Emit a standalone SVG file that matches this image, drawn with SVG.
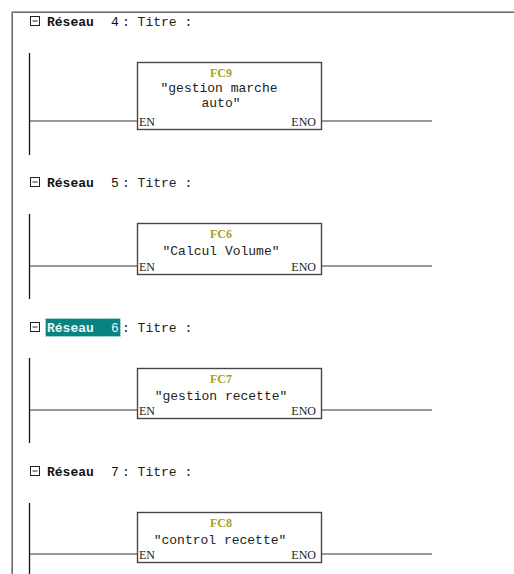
<svg xmlns="http://www.w3.org/2000/svg" width="514" height="574" viewBox="0 0 514 574">
  <defs>
    <style>
      .frame-outer { stroke: #a8a8a8; stroke-width: 1; fill: none; }
      .frame-inner { stroke: #6a6a6a; stroke-width: 1; fill: none; }
      .rail { stroke: #111; stroke-width: 1.3; fill: none; }
      .wire { stroke: #333; stroke-width: 1.2; fill: none; }
      .block { fill: #fff; stroke: #474747; stroke-width: 1.4; }
      .toggle { fill: #fff; stroke: #222; stroke-width: 1; }
      .net { font-family: "Liberation Mono", "Courier New", monospace; font-size: 13px; font-weight: bold; fill: #111; }
      .num { font-family: "Liberation Mono", "Courier New", monospace; font-size: 13px; fill: #111; }
      .title { font-family: "Liberation Mono", "Courier New", monospace; font-size: 13px; fill: #222; }
      .fc { font-family: "Liberation Serif", "Times New Roman", serif; font-size: 12px; font-weight: bold; fill: #a3a317; text-anchor: middle; }
      .name { font-family: "Liberation Mono", "Courier New", monospace; font-size: 13px; fill: #222; text-anchor: middle; }
      .pin { font-family: "Liberation Serif", "Times New Roman", serif; font-size: 12px; fill: #222; }
      .sel { fill: #0b8282; stroke: #bfe6e6; stroke-width: 1; stroke-dasharray: 1.5 1.5; }
      .seltext { fill: #e4f6f6; }
    </style>
    <g id="toggle">
      <rect class="toggle" x="0.5" y="0.5" width="9" height="9"/>
      <line x1="2.5" y1="5" x2="7.5" y2="5" stroke="#222" stroke-width="1"/>
    </g>
  </defs>

  <rect width="514" height="574" fill="#fff"/>

  <!-- editor frame -->
  <g id="frame">
    <path class="frame-outer" d="M11.5 574 V11.5 H514"/>
    <path class="frame-inner" d="M12.5 574 V12.5 H514"/>
  </g>

  <!-- network headers -->
  <g id="header4">
    <use href="#toggle" x="30" y="16"/>
    <text class="net" x="47" y="26">Réseau</text>
    <text class="num" x="111" y="26">4</text>
    <text class="title" x="122" y="26">: Titre :</text>
  </g>
  <g id="header5">
    <use href="#toggle" x="30" y="177"/>
    <text class="net" x="47" y="187">Réseau</text>
    <text class="num" x="111" y="187">5</text>
    <text class="title" x="122" y="187">: Titre :</text>
  </g>
  <g id="header6">
    <use href="#toggle" x="30" y="322"/>
    <rect class="sel" x="45.5" y="318.5" width="75" height="18"/>
    <text class="net seltext" x="47" y="332">Réseau</text>
    <text class="num seltext" x="111" y="332">6</text>
    <text class="title" x="122" y="332">: Titre :</text>
  </g>
  <g id="header7">
    <use href="#toggle" x="30" y="466"/>
    <text class="net" x="47" y="476">Réseau</text>
    <text class="num" x="111" y="476">7</text>
    <text class="title" x="122" y="476">: Titre :</text>
  </g>

  <!-- power rails and EN/ENO wires -->
  <g id="connectors">
    <line class="rail" x1="29.5" y1="53" x2="29.5" y2="155"/>
    <line class="wire" x1="29.5" y1="121" x2="137" y2="121"/>
    <line class="wire" x1="322" y1="121" x2="432" y2="121"/>

    <line class="rail" x1="29.5" y1="214" x2="29.5" y2="299"/>
    <line class="wire" x1="29.5" y1="266" x2="137" y2="266"/>
    <line class="wire" x1="322" y1="266" x2="432" y2="266"/>

    <line class="rail" x1="29.5" y1="358" x2="29.5" y2="443"/>
    <line class="wire" x1="29.5" y1="410" x2="137" y2="410"/>
    <line class="wire" x1="322" y1="410" x2="432" y2="410"/>

    <line class="rail" x1="29.5" y1="503" x2="29.5" y2="574"/>
    <line class="wire" x1="29.5" y1="554" x2="137" y2="554"/>
    <line class="wire" x1="322" y1="554" x2="432" y2="554"/>
  </g>

  <!-- function blocks -->
  <g id="fc9">
    <rect class="block" x="137.5" y="62.5" width="184" height="67"/>
    <text class="fc" x="221" y="77">FC9</text>
    <text class="name" x="219" y="92">"gestion marche</text>
    <text class="name" x="221" y="107">auto"</text>
    <text class="pin" x="139" y="126">EN</text>
    <text class="pin" x="316" y="126" text-anchor="end">ENO</text>
  </g>
  <g id="fc6">
    <rect class="block" x="137.5" y="223.5" width="184" height="51"/>
    <text class="fc" x="221" y="238">FC6</text>
    <text class="name" x="221" y="255">"Calcul Volume"</text>
    <text class="pin" x="139" y="271">EN</text>
    <text class="pin" x="316" y="271" text-anchor="end">ENO</text>
  </g>
  <g id="fc7">
    <rect class="block" x="137.5" y="368.5" width="184" height="50"/>
    <text class="fc" x="221" y="383">FC7</text>
    <text class="name" x="221" y="400">"gestion recette"</text>
    <text class="pin" x="139" y="415">EN</text>
    <text class="pin" x="316" y="415" text-anchor="end">ENO</text>
  </g>
  <g id="fc8">
    <rect class="block" x="137.5" y="512.5" width="184" height="50"/>
    <text class="fc" x="221" y="527">FC8</text>
    <text class="name" x="220" y="544">"control recette"</text>
    <text class="pin" x="139" y="559">EN</text>
    <text class="pin" x="316" y="559" text-anchor="end">ENO</text>
  </g>
</svg>
